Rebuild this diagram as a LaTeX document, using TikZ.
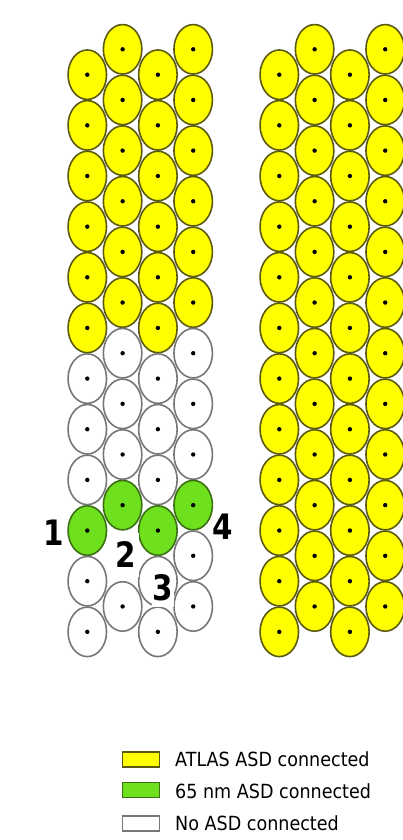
\documentclass[tikz,border=0pt]{standalone}
\usepackage{fontspec}
\newfontfamily\legfont[FakeStretch=0.9]{DejaVu Sans}
\newfontfamily\numfont[FakeStretch=0.84]{DejaVu Sans Bold}
\usetikzlibrary{shapes.geometric}
\definecolor{cyel}{HTML}{FFFF00}
\definecolor{cyelb}{HTML}{5C5A10}
\definecolor{cgrn}{HTML}{6EE01E}
\definecolor{cgrnb}{HTML}{3C7014}
\definecolor{cwhtb}{HTML}{777777}
\tikzset{
 cell/.style={ellipse, minimum width=38.5pt, minimum height=49.5pt, inner sep=0pt, line width=1.6pt},
 wire/.style={circle, fill=black, inner sep=0pt, minimum size=4.4pt},
 numlab/.style={font=\numfont\fontsize{35}{35}\selectfont, inner sep=0pt},
 legbox/.style={minimum width=37pt, minimum height=15pt, inner sep=0pt, line width=1.5pt},
 legtext/.style={font=\legfont\fontsize{19.5}{20}\selectfont, anchor=base west, inner sep=0pt},
}
\begin{document}
\begin{tikzpicture}[x=1pt,y=-1pt]
\useasboundingbox (0,0) rectangle (402,840);
\fill[white] (0,0) rectangle (402,840);
% left panel
\foreach \c/\x/\yo in {1/87.3/74.7, 2/122.6/49.3, 3/157.9/74.7, 4/193.2/49.3} {
  \foreach \k in {0,...,11} {
    \pgfmathsetmacro\yy{\yo+50.65*\k}
    \ifnum\k<6 \def\fc{cyel}\def\dc{cyelb}\else\ifnum\k=9 \def\fc{cgrn}\def\dc{cgrnb}\else\def\fc{white}\def\dc{cwhtb}\fi\fi
    \ifnum\c\k=210 \else
    \node[cell, fill=\fc, draw=\dc] (L\c-\k) at (\x,\yy) {};
    \node[wire] (L\c-\k d) at (L\c-\k.center) {};
    \fi
  }
}
% right panel
\foreach \c/\x/\yo in {1/279.3/74.7, 2/314.6/49.3, 3/349.9/74.7, 4/385.2/49.3} {
  \foreach \k in {0,...,11} {
    \pgfmathsetmacro\yy{\yo+50.65*\k}
    \node[cell, fill=cyel, draw=cyelb] (R\c-\k) at (\x,\yy) {};
    \node[wire] (R\c-\k d) at (R\c-\k.center) {};
  }
}
% number labels
\node[numlab] (n1) at (53.5,532.5) {1};
\node[numlab, fill=white, minimum width=26pt, minimum height=44pt] (n2) at (126,555) {2};
\node[numlab, fill=white, minimum width=22pt, minimum height=38pt] (n3) at (162.5,588) {3};
\node[numlab] (n4) at (222.5,526.5) {4};
% legend
\node[legbox, fill=cyel, draw=cyelb] (ly) at (141,759.5) {};
\node[legtext] (ty) at (175,766) {ATLAS ASD connected};
\node[legbox, fill=cgrn, draw=cgrnb] (lg) at (141,790) {};
\node[legtext] (tg) at (175,798) {65 nm ASD connected};
\node[legbox, fill=white, draw=cwhtb] (lw) at (141,823.3) {};
\node[legtext] (tw) at (175,830) {No ASD connected};
\end{tikzpicture}
\end{document}
